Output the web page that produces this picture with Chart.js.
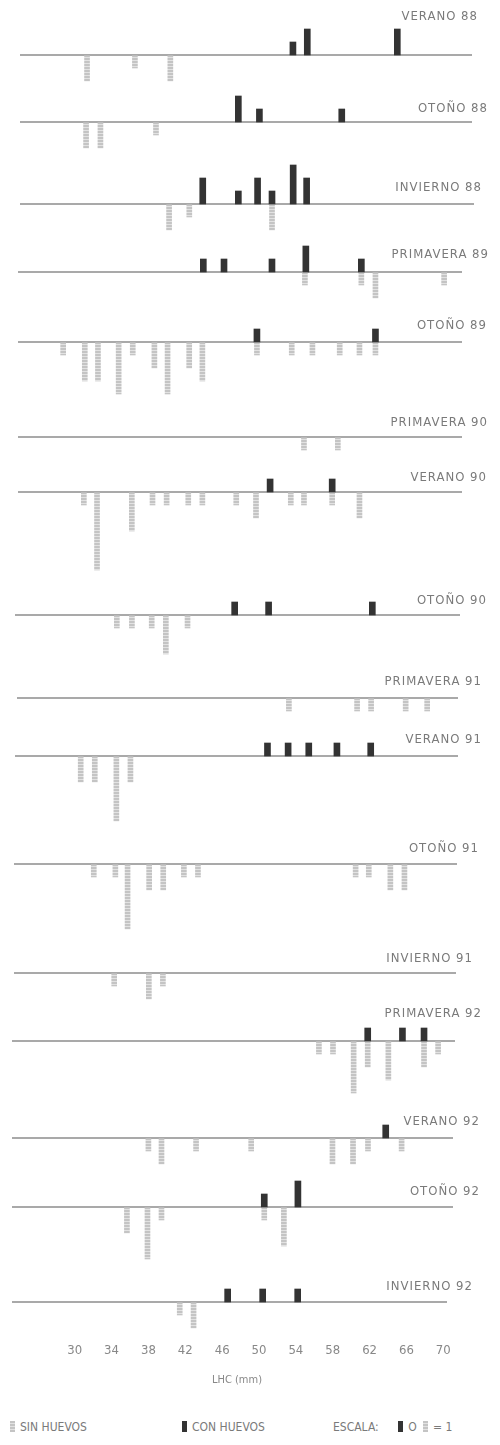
<!DOCTYPE html>
<html>
<head>
<meta charset="utf-8">
<script src="https://cdn.jsdelivr.net/npm/chart.js@4.4.1/dist/chart.umd.min.js"></script>
<style>
  body { margin: 0; background: #fff; }
  #page { position: relative; width: 500px; height: 1445px; overflow: hidden;
          font-family: "DejaVu Sans Condensed", "DejaVu Sans", sans-serif; color: #7a7a7a; }
  .panel { position: absolute; left: 0; width: 500px; }
  .lbl { position: absolute; font-size: 13px; letter-spacing: 1px; white-space: nowrap;
         transform: translateY(-50%); }
  .leg { position: absolute; top: 1420px; font-size: 12px; white-space: nowrap; }
  .sw { display: inline-block; width: 5px; height: 11px; vertical-align: -1px; margin-right: 5px; }
  .sw.dark { background: #333; }
  .sw.light { background: repeating-linear-gradient(#c4c4c4 0 2px, #e2e2e2 2px 3px); }
</style>
</head>
<body>
<div id="page"></div>
<script>
// seasons, top to bottom
var seasons = ['VERANO 88', 'OTOÑO 88', 'INVIERNO 88', 'PRIMAVERA 89', 'OTOÑO 89', 'PRIMAVERA 90',
  'VERANO 90', 'OTOÑO 90', 'PRIMAVERA 91', 'VERANO 91', 'OTOÑO 91', 'INVIERNO 91',
  'PRIMAVERA 92', 'VERANO 92', 'OTOÑO 92', 'INVIERNO 92'];

// [LHC mm, n] females con huevos (drawn up)
var conHuevos = [
  [[51.7, 1], [53.2, 2], [62.6, 2]],
  [[46.0, 2], [48.2, 1], [56.8, 1]],
  [[42.2, 2], [45.9, 1], [47.9, 2], [49.4, 1], [51.6, 3], [53.0, 2]],
  [[42.9, 1], [45.1, 1], [50.2, 1], [53.8, 2], [59.7, 1]],
  [[48.6, 1], [61.2, 1]],
  [],
  [[50.0, 1], [56.6, 1]],
  [[46.5, 1], [50.1, 1], [61.1, 1]],
  [],
  [[50.1, 1], [52.3, 1], [54.5, 1], [57.5, 1], [61.1, 1]],
  [],
  [],
  [[61.1, 1], [64.8, 1], [67.1, 1]],
  [[63.2, 1]],
  [[50.2, 1], [53.8, 2]],
  [[46.6, 1], [50.4, 1], [54.2, 1]]
];

// [LHC mm, n] sin huevos (drawn down)
var sinHuevos = [
  [[30.2, 2], [35.2, 1], [38.9, 2]],
  [[30.1, 2], [31.6, 2], [37.4, 1]],
  [[38.7, 2], [40.8, 1], [49.4, 2]],
  [[53.7, 1], [59.7, 1], [61.2, 2], [68.5, 1]],
  [[28.0, 1], [30.3, 3], [31.7, 3], [33.9, 4], [35.4, 1], [37.7, 2], [39.1, 4], [41.4, 2], [42.8, 3],
   [48.6, 1], [52.3, 1], [54.5, 1], [57.4, 1], [59.5, 1], [61.2, 1]],
  [[53.6, 1], [57.2, 1]],
  [[30.2, 1], [31.6, 6], [35.3, 3], [37.5, 1], [39.0, 1], [41.3, 1], [42.8, 1], [46.4, 1], [48.5, 2],
   [52.2, 1], [53.6, 1], [56.6, 1], [59.5, 2]],
  [[34.0, 1], [35.6, 1], [37.7, 1], [39.2, 3], [41.5, 1]],
  [[52.3, 1], [59.6, 1], [61.1, 1], [64.8, 1], [67.1, 1]],
  [[30.2, 2], [31.7, 2], [34.0, 5], [35.5, 2]],
  [[31.7, 1], [34.0, 1], [35.3, 5], [37.6, 2], [39.1, 2], [41.3, 1], [42.8, 1], [59.6, 1], [61.0, 1],
   [63.3, 2], [64.8, 2]],
  [[33.9, 1], [37.6, 2], [39.1, 1]],
  [[55.9, 1], [57.4, 1], [59.6, 4], [61.1, 2], [63.3, 3], [67.1, 2], [68.6, 1]],
  [[37.8, 1], [39.2, 2], [42.9, 1], [48.8, 1], [57.5, 2], [59.7, 2], [61.3, 1], [64.9, 1]],
  [[35.5, 2], [37.7, 4], [39.2, 1], [50.2, 1], [52.3, 3]],
  [[41.4, 1], [42.9, 2]]
];

var tickLabels = [30, 34, 38, 42, 46, 50, 54, 58, 62, 66, 70];

// layout (px) - the scan is a bit skewed so every strip gets its own line ends
var LINE_FROM = 23.2, LINE_TO = 70.4;   // mm covered by each base line
var baseY  = [55, 122, 204, 272, 342, 437, 492, 615, 698, 756, 864, 973, 1041, 1138, 1207, 1302];
var lineL  = [20, 20, 20, 18, 18, 18, 18, 15, 17, 15, 14, 14, 12, 12, 12, 12];
var lineR  = [472, 472, 474, 462, 462, 462, 462, 460, 458, 458, 457, 456, 455, 453, 453, 447];
var labelY = [15, 107, 186, 253, 324, 421, 476, 599, 680, 738, 847, 957, 1012, 1120, 1190, 1285];
var labelR = [478, 488, 482, 489, 487, 488, 487, 487, 482, 482, 479, 473, 482, 480, 480, 473];
var UNIT = 13, UP = 45, DOWN = 95;

var page = document.getElementById('page');

// striped fill for the "sin huevos" bars
var pc = document.createElement('canvas');
pc.width = 5; pc.height = 3;
var pctx = pc.getContext('2d');
pctx.fillStyle = '#c4c4c4'; pctx.fillRect(0, 0, 5, 3);
pctx.fillStyle = '#e2e2e2'; pctx.fillRect(0, 2, 5, 1);
var lightFill = pctx.createPattern(pc, 'repeat');

var baseLine = {
  id: 'baseLine',
  beforeDatasetsDraw: function (chart) {
    var ctx = chart.ctx, x = chart.scales.x, y = chart.scales.y;
    var y0 = y.getPixelForValue(0);
    ctx.save();
    ctx.strokeStyle = '#8c8c8c';
    ctx.lineWidth = 1.5;
    ctx.beginPath();
    ctx.moveTo(x.getPixelForValue(LINE_FROM), y0);
    ctx.lineTo(x.getPixelForValue(LINE_TO), y0);
    ctx.stroke();
    ctx.restore();
  }
};

function xRange(i, w) {
  var ppm = (lineR[i] - lineL[i]) / (LINE_TO - LINE_FROM);
  var min = LINE_FROM - lineL[i] / ppm;
  return { min: min, max: min + w / ppm };
}

seasons.forEach(function (name, i) {
  var box = document.createElement('div');
  box.className = 'panel';
  box.style.top = (baseY[i] - UP) + 'px';
  box.style.height = (UP + DOWN) + 'px';
  var cv = document.createElement('canvas');
  cv.width = 500; cv.height = UP + DOWN;
  box.appendChild(cv);
  page.appendChild(box);

  var lbl = document.createElement('div');
  lbl.className = 'lbl';
  lbl.textContent = name;
  lbl.style.top = labelY[i] + 'px';
  lbl.style.right = (500 - labelR[i]) + 'px';
  page.appendChild(lbl);

  var xr = xRange(i, 500);
  new Chart(cv, {
    type: 'bar',
    data: {
      datasets: [{
        label: 'CON HUEVOS',
        data: conHuevos[i].map(function (d) { return { x: d[0], y: [0, d[1]] }; }),
        backgroundColor: '#333',
        barThickness: 6,
        grouped: false
      }, {
        label: 'SIN HUEVOS',
        data: sinHuevos[i].map(function (d) { return { x: d[0], y: [-d[1], -0.05] }; }),
        backgroundColor: lightFill,
        barThickness: 5,
        grouped: false
      }]
    },
    options: {
      responsive: false,
      animation: false,
      layout: { padding: 0 },
      plugins: { legend: { display: false }, tooltip: { enabled: false } },
      scales: {
        x: { type: 'linear', min: xr.min, max: xr.max, offset: false, display: false },
        y: { min: -DOWN / UNIT, max: UP / UNIT, display: false }
      }
    },
    plugins: [baseLine]
  });
});

// x axis under the last strip (tall canvas so the axis box is not squeezed)
var AX_W = 474, AX_H = 120;
var axBox = document.createElement('div');
axBox.className = 'panel';
axBox.style.top = '1269px';
axBox.style.height = AX_H + 'px';
axBox.style.width = AX_W + 'px';
var axCv = document.createElement('canvas');
axCv.width = AX_W; axCv.height = AX_H;
axBox.appendChild(axCv);
page.appendChild(axBox);
var axr = xRange(seasons.length - 1, AX_W);
new Chart(axCv, {
  type: 'scatter',
  data: { datasets: [] },
  options: {
    responsive: false,
    animation: false,
    layout: { padding: 0 },
    plugins: { legend: { display: false }, tooltip: { enabled: false } },
    scales: {
      x: {
        type: 'linear', min: axr.min, max: axr.max,
        afterBuildTicks: function (axis) {
          axis.ticks = tickLabels.map(function (v) { return { value: v }; });
        },
        grid: { display: false },
        border: { display: false },
        ticks: { color: '#888', font: { family: 'DejaVu Sans Condensed', size: 13 }, padding: 2, maxRotation: 0 },
        title: { display: true, text: 'LHC (mm)', color: '#888',
                 font: { family: 'DejaVu Sans Condensed', size: 11 }, padding: { top: 13, bottom: 2 } }
      },
      y: { display: false }
    }
  }
});

// legend row
var legend = [
  { left: 10, html: '<span class="sw light"></span>SIN HUEVOS' },
  { left: 182, html: '<span class="sw dark"></span>CON HUEVOS' },
  { left: 333, html: 'ESCALA: <span class="sw dark" style="margin-left:16px"></span>O <span class="sw light" style="margin-left:3px"></span>= 1' }
];
legend.forEach(function (l) {
  var d = document.createElement('div');
  d.className = 'leg';
  d.style.left = l.left + 'px';
  d.innerHTML = l.html;
  page.appendChild(d);
});
</script>
</body>
</html>
